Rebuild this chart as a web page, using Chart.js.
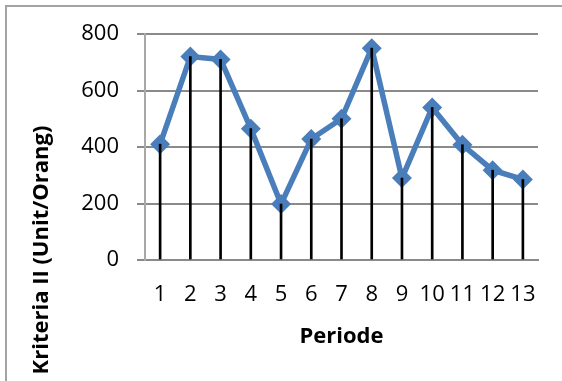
<!DOCTYPE html>
<html lang="id">
<head>
  <meta charset="UTF-8" />
  <title>Kriteria II per Periode</title>
  <style>
    html, body {
      margin: 0;
      padding: 0;
      background: #ffffff;
    }
    .wrap {
      position: relative;
      width: 562px;
      height: 381px;
      overflow: hidden;
    }
    /* grey frame on the top and left edges */
    .frame {
      position: absolute;
      left: 5px;
      top: 5px;
      right: -10px;
      bottom: -10px;
      border-left: 2px solid #a3a3a3;
      border-top: 2px solid #a3a3a3;
      pointer-events: none;
    }
    canvas {
      position: absolute;
      left: 0;
      top: 0;
    }
  </style>
</head>
<body>
  <div class="wrap">
    <canvas id="chart" width="562" height="381"></canvas>
    <div class="frame"></div>
  </div>

  <script src="https://cdn.jsdelivr.net/npm/chart.js"></script>
  <script>
    // Data.
    const periods = ['1', '2', '3', '4', '5', '6', '7', '8', '9', '10', '11', '12', '13'];
    const kriteriaValues = [410, 720, 710, 465, 198, 428, 500, 750, 290, 540, 408, 318, 285];
    const yTicks = [0, 200, 400, 600, 800];

    const xTitle = 'Periode';
    const yTitle = 'Kriteria II (Unit/Orang)';

    const lineBlue = '#4a7ebb';
    const gridGrey = '#8a8a8a';

    // Rotated y-axis title, placed like the original (centred lower than the plot).
    const yTitlePlugin = {
      id: 'yTitle',
      afterDraw(chart) {
        const ctx = chart.ctx;
        ctx.save();
        ctx.translate(42, 250);
        ctx.rotate(-Math.PI / 2);
        ctx.font = 'bold 22px "Open Sans", sans-serif';
        ctx.fillStyle = '#000000';
        ctx.textAlign = 'center';
        ctx.textBaseline = 'middle';
        ctx.fillText(yTitle, 0, 0);
        ctx.restore();
      }
    };

    new Chart(document.getElementById('chart'), {
      type: 'line',
      data: {
        labels: periods,
        datasets: [
          {
            // thin black drop lines from each point to the axis
            type: 'bar',
            data: kriteriaValues,
            backgroundColor: '#000000',
            barThickness: 2,
            order: 0
          },
          {
            type: 'line',
            data: kriteriaValues,
            borderColor: lineBlue,
            borderWidth: 5.5,
            tension: 0,
            pointStyle: 'rectRot',
            pointRadius: 10,
            pointBorderWidth: 0,
            pointBackgroundColor: lineBlue,
            order: 1
          }
        ]
      },
      options: {
        responsive: false,
        animation: false,
        layout: {
          padding: { top: 34, right: 24, bottom: 0, left: 0 }
        },
        plugins: {
          legend: { display: false },
          tooltip: { enabled: false }
        },
        scales: {
          x: {
            type: 'category',
            offset: true,
            grid: { display: false, drawTicks: false },
            border: { display: true, color: gridGrey, width: 2 },
            ticks: {
              color: '#000000',
              padding: 22,
              maxRotation: 0,
              autoSkip: false,
              font: { family: '"Open Sans", sans-serif', size: 22 }
            },
            title: {
              display: true,
              text: xTitle,
              color: '#000000',
              padding: { top: 0, bottom: 31 },
              font: { family: '"Open Sans", sans-serif', size: 22, weight: 'bold' }
            },
            afterFit(scale) { scale.height = 121; }
          },
          y: {
            min: 0,
            max: 800,
            afterBuildTicks(scale) { scale.ticks = yTicks.map(v => ({ value: v })); },
            grid: {
              color: gridGrey,
              lineWidth: 2,
              drawTicks: true,
              tickLength: 8
            },
            border: { display: true, color: '#a8a8a8', width: 2 },
            ticks: {
              color: '#000000',
              padding: 18,
              font: { family: '"Open Sans", sans-serif', size: 22 }
            },
            afterFit(scale) { scale.width = 145; }
          }
        }
      },
      plugins: [yTitlePlugin]
    });
  </script>
</body>
</html>
